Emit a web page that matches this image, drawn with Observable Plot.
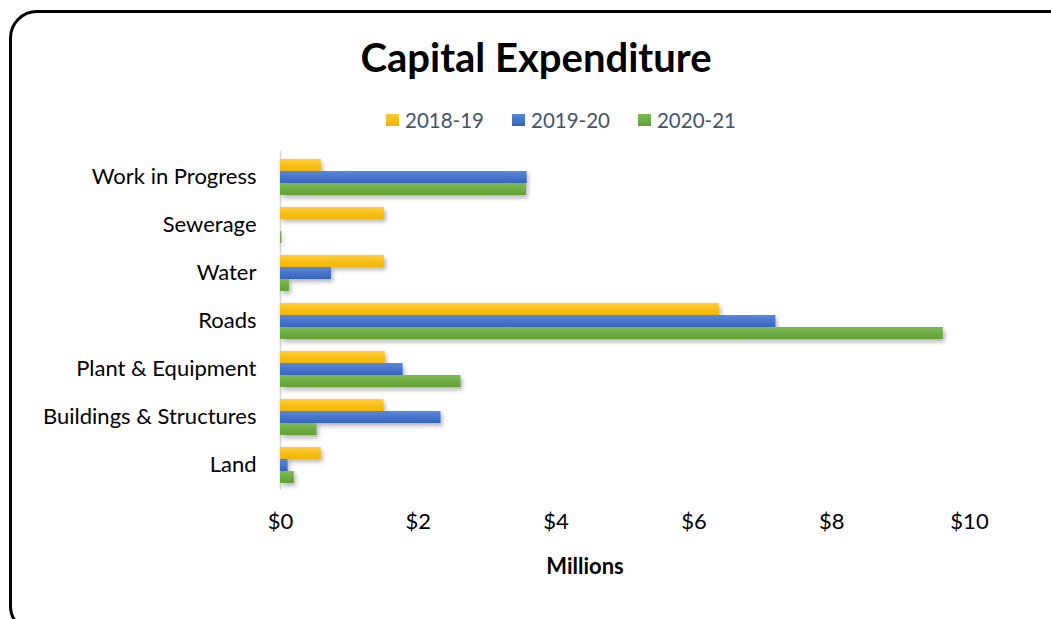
<!DOCTYPE html>
<html>
<head>
<meta charset="utf-8">
<script src="https://cdn.jsdelivr.net/npm/d3@7"></script>
<script src="https://cdn.jsdelivr.net/npm/@observablehq/plot@0.6"></script>
<style>
  html, body { margin: 0; padding: 0; background: #fff; }
  #wrap { position: relative; width: 1051px; height: 619px; overflow: hidden; font-family: Lato, "Open Sans", sans-serif; }
  #frame { position: absolute; left: 9px; top: 10px; width: 1070px; height: 624px; border: 3px solid #000; border-radius: 28px; box-sizing: border-box; }
  #title { position: absolute; left: 0; top: 33px; width: 1072px; text-align: center; font-weight: bold; font-size: 40px; color: #000; }
  #legend { position: absolute; left: 0; top: 108px; width: 1122px; display: flex; justify-content: center; gap: 28px; font-size: 20.5px; color: #44546A; }
  #legend .item { display: flex; align-items: center; gap: 6px; }
  #legend .sw { width: 13px; height: 12px; }
  #xlabel { position: absolute; left: 0; top: 552px; width: 1170px; text-align: center; font-weight: bold; font-size: 22px; color: #000; }
  #chart { position: absolute; left: 0; top: 0; }
  #chart svg g[aria-label="bar"] rect { filter: drop-shadow(2px 3px 2px rgba(0,0,0,0.28)); }
</style>
</head>
<body>
<div id="wrap">
  <div id="frame"></div>
  <div id="title">Capital Expenditure</div>
  <div id="legend"></div>
  <div id="chart"></div>
  <div id="xlabel">Millions</div>
</div>
<script>
const categories = ["Work in Progress", "Sewerage", "Water", "Roads", "Plant & Equipment", "Buildings & Structures", "Land"];
const series = ["2018-19", "2019-20", "2020-21"];
const values2018 = [0.59, 1.51, 1.51, 6.37, 1.52, 1.50, 0.59];
const values2019 = [3.58, 0.00, 0.74, 7.19, 1.78, 2.33, 0.11];
const values2020 = [3.57, 0.02, 0.13, 9.62, 2.62, 0.53, 0.20];
const xTicks = [0, 2, 4, 6, 8, 10];
const gradTop = ["#FFCB3A", "#5B87D6", "#7FBA55"];
const gradBottom = ["#F2B600", "#3464BE", "#62A136"];
const gradIds = ["g1819", "g1920", "g2021"];

const allValues = [values2018, values2019, values2020];
const data = [];
series.forEach((s, i) => categories.forEach((c, j) => data.push({category: c, series: s, value: allValues[i][j]})));

// legend
const legend = document.getElementById("legend");
series.forEach((s, i) => {
  const it = document.createElement("div");
  it.className = "item";
  it.innerHTML = `<div class="sw" style="background:linear-gradient(${gradTop[i]},${gradBottom[i]})"></div><span>${s}</span>`;
  legend.appendChild(it);
});

const marks = [
  Plot.ruleX([0], {stroke: "#D9D9D9", strokeWidth: 1.5, insetTop: -7, insetBottom: -7})
];
series.forEach((s, i) => {
  marks.push(Plot.barX(data.filter(d => d.series === s), {
    x: "value", y: "series", fy: "category", fill: `url(#${gradIds[i]})`
  }));
});

const plot = Plot.plot({
  width: 1051,
  height: 619,
  marginLeft: 280,
  marginRight: 82,
  marginTop: 153,
  marginBottom: 130,
  style: {fontFamily: "Lato, 'Open Sans', sans-serif", fontSize: "22px", color: "#000", background: "transparent", overflow: "visible"},
  x: {domain: [0, 10], ticks: xTicks, tickFormat: d => "$" + d, tickSize: 0, tickPadding: 30, label: null},
  y: {domain: series, axis: null, padding: 0},
  fy: {domain: categories, paddingInner: 0.22, paddingOuter: 0.11, tickSize: 0, tickPadding: 24, label: null, axis: "left"},
  marks
});

// gradients
const ns = "http://www.w3.org/2000/svg";
const defs = document.createElementNS(ns, "defs");
gradIds.forEach((id, i) => {
  const lg = document.createElementNS(ns, "linearGradient");
  lg.setAttribute("id", id);
  lg.setAttribute("x1", "0"); lg.setAttribute("y1", "0"); lg.setAttribute("x2", "0"); lg.setAttribute("y2", "1");
  [[0, gradTop[i]], [1, gradBottom[i]]].forEach(([o, c]) => {
    const st = document.createElementNS(ns, "stop");
    st.setAttribute("offset", o); st.setAttribute("stop-color", c);
    lg.appendChild(st);
  });
  defs.appendChild(lg);
});
plot.insertBefore(defs, plot.firstChild);
document.getElementById("chart").appendChild(plot);
</script>
</body>
</html>
